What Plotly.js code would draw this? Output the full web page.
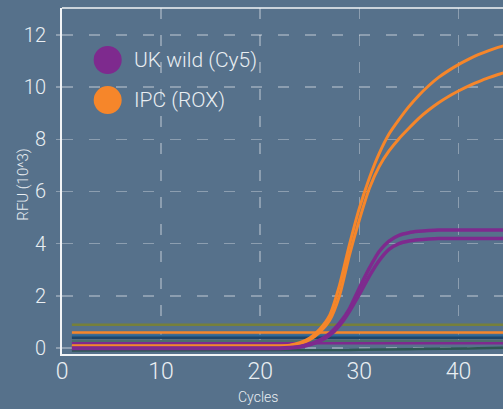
<!DOCTYPE html>
<html>
<head>
<meta charset="utf-8">
<script src="https://cdn.plot.ly/plotly-3.0.1.min.js"></script>
<style>
html,body{margin:0;padding:0;background:#56718B;}
#chart{width:503px;height:409px;}
</style>
</head>
<body>
<div id="chart"></div>
<script>
// ---- data (RFU in 10^3) ----
var cycles = [1,2,3,4,5,6,7,8,9,10,11,12,13,14,15,16,17,18,19,20,21,22,23,24,25,26,27,28,29,30,31,32,33,34,35,36,37,38,39,40,41,42,43,44,45];

var ipcA = [0.08,0.08,0.08,0.08,0.08,0.08,0.08,0.08,0.08,0.08,0.08,0.08,0.08,0.08,0.08,0.08,0.08,0.08,0.08,0.08,0.08,0.08,
            0.11,0.20,0.38,0.72,1.25,2.40,3.95,5.35,6.50,7.45,8.20,8.75,9.25,9.68,10.05,10.37,10.63,10.86,11.06,11.24,11.39,11.52,11.63];
var ipcB = [0.08,0.08,0.08,0.08,0.08,0.08,0.08,0.08,0.08,0.08,0.08,0.08,0.08,0.08,0.08,0.08,0.08,0.08,0.08,0.08,0.08,0.08,
            0.10,0.17,0.32,0.60,1.05,2.00,3.55,4.90,6.10,6.95,7.55,8.02,8.42,8.80,9.12,9.40,9.64,9.85,10.04,10.20,10.35,10.48,10.60];
var ukA  = [0,0,0,0,0,0,0,0,0,0,0,0,0,0,0,0,0,0,0,0,0,0,
            0.02,0.06,0.15,0.30,0.55,0.95,1.50,2.30,3.05,3.70,4.10,4.32,4.42,4.47,4.50,4.52,4.52,4.52,4.52,4.52,4.52,4.52,4.52];
var ukB  = [-0.02,-0.02,-0.02,-0.02,-0.02,-0.02,-0.02,-0.02,-0.02,-0.02,-0.02,-0.02,-0.02,-0.02,-0.02,-0.02,-0.02,-0.02,-0.02,-0.02,-0.02,-0.02,
            0.00,0.04,0.12,0.26,0.48,0.86,1.40,2.05,2.75,3.35,3.78,4.00,4.10,4.15,4.18,4.20,4.20,4.20,4.20,4.20,4.20,4.20,4.20];

var flatOlive  = [0.89,0.89,0.89,0.89,0.89,0.89,0.89,0.89,0.89,0.89,0.89,0.89,0.89,0.89,0.89,0.89,0.89,0.89,0.89,0.89,0.89,0.89,0.89,0.89,0.89,0.89,0.89,0.89,0.89,0.89,0.89,0.89,0.89,0.89,0.89,0.89,0.89,0.89,0.89,0.89,0.89,0.89,0.89,0.89,0.89];
var flatOrange = [0.59,0.59,0.59,0.59,0.59,0.59,0.59,0.59,0.59,0.59,0.59,0.59,0.59,0.59,0.59,0.59,0.59,0.59,0.59,0.59,0.59,0.59,0.59,0.59,0.59,0.59,0.59,0.59,0.59,0.59,0.59,0.59,0.59,0.59,0.59,0.59,0.59,0.59,0.59,0.59,0.59,0.59,0.59,0.59,0.59];
var flatBlue   = [0.47,0.47,0.47,0.47,0.47,0.47,0.47,0.47,0.47,0.47,0.47,0.47,0.47,0.47,0.47,0.47,0.47,0.47,0.47,0.47,0.47,0.47,0.47,0.47,0.47,0.47,0.47,0.47,0.47,0.47,0.47,0.47,0.47,0.47,0.47,0.47,0.47,0.47,0.47,0.47,0.47,0.47,0.47,0.47,0.47];
var flatNavy   = [0.39,0.39,0.39,0.39,0.39,0.39,0.39,0.39,0.39,0.39,0.39,0.39,0.39,0.39,0.39,0.39,0.39,0.39,0.39,0.39,0.39,0.39,0.39,0.39,0.39,0.39,0.39,0.39,0.39,0.39,0.39,0.39,0.39,0.39,0.39,0.39,0.39,0.39,0.39,0.39,0.39,0.39,0.39,0.39,0.39];
var flatTeal   = [0.27,0.27,0.27,0.27,0.27,0.27,0.27,0.27,0.27,0.27,0.27,0.27,0.27,0.27,0.27,0.27,0.27,0.27,0.27,0.27,0.27,0.27,0.27,0.27,0.27,0.27,0.27,0.27,0.27,0.27,0.27,0.27,0.27,0.27,0.27,0.27,0.27,0.27,0.27,0.27,0.27,0.27,0.27,0.27,0.27];
var flatPurple = [0.18,0.18,0.18,0.18,0.18,0.18,0.18,0.18,0.18,0.18,0.18,0.18,0.18,0.18,0.18,0.18,0.18,0.18,0.18,0.18,0.18,0.18,0.18,0.18,0.18,0.18,0.18,0.18,0.18,0.18,0.18,0.18,0.18,0.18,0.18,0.18,0.18,0.18,0.18,0.18,0.18,0.18,0.18,0.18,0.18];
var flatSlate  = [-0.10,-0.10,-0.10,-0.10,-0.10,-0.10,-0.10,-0.10,-0.10,-0.10,-0.10,-0.10,-0.10,-0.10,-0.10,-0.10,-0.10,-0.10,-0.10,-0.10,-0.10,-0.10,-0.10,-0.10,-0.09,-0.09,-0.09,-0.08,-0.08,-0.07,-0.07,-0.06,-0.06,-0.05,-0.05,-0.04,-0.04,-0.03,-0.03,-0.02,-0.02,-0.01,-0.01,0.00,0.01];

var seriesNames = ['UK wild (Cy5)', 'IPC (ROX)'];
var xTicks = [0,10,20,30,40];
var yTicks = [0,2,4,6,8,10,12];
var xTitle = 'Cycles';
var yTitle = 'RFU (10^3)';

// ---- styles ----
var ORANGE = '#F6862A', PURPLE = '#7E2A8E';
var textCol = '#E9EEF2';
var FONT = 'Roboto, "Open Sans", sans-serif';

function line(y, color, w, shape){
  return {x: cycles, y: y, mode:'lines', showlegend:false, hoverinfo:'skip',
          line:{color:color, width:w, shape: shape || 'linear', smoothing:0.6}};
}

var traces = [
  line(flatSlate,  '#2E5653', 2.5),
  line(flatOlive,  '#76803B', 2.5),
  line(flatOrange, ORANGE, 2.5),
  line(flatBlue,   '#2F6796', 2.5),
  line(flatNavy,   '#1E4468', 2.5),
  line(flatTeal,   '#4C6E6C', 2.5),
  line(flatPurple, PURPLE, 2.5),
  line(ipcA, ORANGE, 3, 'spline'),
  line(ipcB, ORANGE, 3, 'spline'),
  line(ukA,  PURPLE, 3.5, 'spline'),
  line(ukB,  PURPLE, 3.5, 'spline')
];

var gridCol = 'rgba(255,255,255,0.32)';
var layout = {
  width:503, height:409,
  margin:{l:62, r:0, t:8, b:55},
  paper_bgcolor:'#56718B', plot_bgcolor:'#56718B',
  font:{family:FONT, color:textCol, weight:300},
  showlegend:false,
  xaxis:{
    range:[0, 44.5], tickvals:xTicks, ticktext:xTicks.map(String),
    showline:true, linecolor:'#F2F4F6', linewidth:2,
    showgrid:true, gridcolor:gridCol, gridwidth:1.5, griddash:'11px,16px',
    zeroline:false, ticks:'', ticklabelstandoff:-5,
    tickfont:{family:FONT, size:23, color:textCol, weight:300}
  },
  yaxis:{
    range:[-0.23, 13.03], tickvals:yTicks, ticktext:yTicks.map(String),
    showline:true, linecolor:'#F2F4F6', linewidth:2,
    showgrid:true, gridcolor:gridCol, gridwidth:1.5, griddash:'11px,16px',
    zeroline:false, ticks:'outside', ticklen:4, tickcolor:gridCol, tickwidth:1.5,
    ticklabelstandoff:6,
    tickfont:{family:FONT, size:20, color:textCol, weight:300}
  },
  shapes:[
    {type:'line', xref:'paper', yref:'paper', x0:0, x1:1, y0:1, y1:1, line:{color:'#F2F4F6', width:1.5}},
    {type:'circle', xref:'paper', yref:'paper', xsizemode:'pixel', ysizemode:'pixel',
     xanchor:0.1036, yanchor:0.8497, x0:-14, x1:14, y0:-14, y1:14, fillcolor:PURPLE, line:{width:0}},
    {type:'circle', xref:'paper', yref:'paper', xsizemode:'pixel', ysizemode:'pixel',
     xanchor:0.1036, yanchor:0.734, x0:-14, x1:14, y0:-14, y1:14, fillcolor:ORANGE, line:{width:0}}
  ],
  annotations:[
    {xref:'paper', yref:'paper', x:0.158, y:0.8497, xanchor:'left', yanchor:'middle', showarrow:false,
     text:seriesNames[0], font:{family:FONT, size:21, color:textCol, weight:300}},
    {xref:'paper', yref:'paper', x:0.158, y:0.734, xanchor:'left', yanchor:'middle', showarrow:false,
     text:seriesNames[1], font:{family:FONT, size:21, color:textCol, weight:300}},
    {xref:'paper', yref:'paper', x:0.444, y:-0.125, xanchor:'center', yanchor:'middle', showarrow:false,
     text:xTitle, font:{family:FONT, size:14, color:textCol, weight:300}},
    {xref:'paper', yref:'paper', x:-0.088, y:0.49, xanchor:'center', yanchor:'middle', showarrow:false,
     textangle:-90, text:yTitle, font:{family:FONT, size:15, color:textCol, weight:300}}
  ]
};

Plotly.newPlot('chart', traces, layout, {displayModeBar:false, staticPlot:true});
</script>
</body>
</html>
